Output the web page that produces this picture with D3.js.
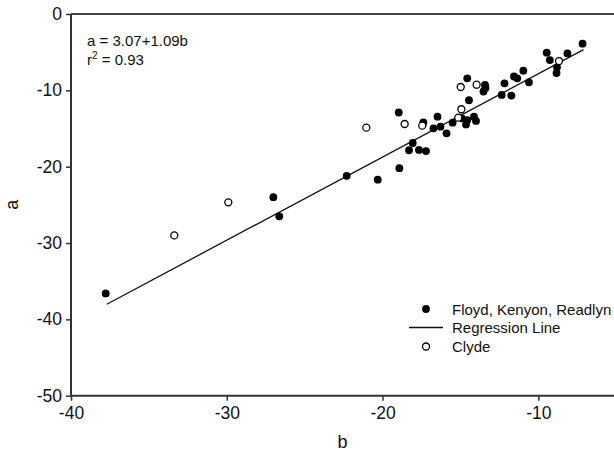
<!DOCTYPE html>
<html>
<head>
<meta charset="utf-8">
<script src="https://cdn.jsdelivr.net/npm/d3@7"></script>
<style>
  html, body { margin: 0; padding: 0; background: #fff; }
  svg { display: block; font-family: "Liberation Sans", Arial, Helvetica, sans-serif; }
</style>
</head>
<body>
<svg id="chart" width="614" height="453"></svg>
<script>
// Sites Floyd, Kenyon and Readlyn (filled markers): b values and matching a values
const fkrB = [-37.77, -27.01, -26.63, -22.30, -20.31, -18.92, -18.96, -17.38, -18.06, -18.30,
              -17.66, -17.21, -16.47, -16.73, -16.28, -15.89, -15.50, -14.90, -14.64, -14.56,
              -14.13, -14.00, -14.45, -14.56, -13.42, -13.52, -13.39, -12.17, -12.35, -11.73,
              -11.56, -11.35, -10.96, -10.60, -9.46, -9.26, -8.80, -8.83, -8.13, -7.16];
const fkrA = [-36.6, -24.0, -26.5, -21.2, -21.7, -20.2, -12.9, -14.2, -16.9, -17.85,
              -17.8, -17.95, -13.45, -14.97, -14.76, -15.63, -14.24, -13.66, -14.47, -13.89,
              -13.45, -14.0, -11.3, -8.43, -9.3, -10.15, -9.7, -9.08, -10.6, -10.68,
              -8.19, -8.43, -7.43, -8.95, -5.07, -6.03, -6.98, -7.73, -5.17, -3.89];

// Clyde site (open markers)
const clydeB = [-33.37, -29.90, -21.04, -18.58, -17.45, -14.94, -15.14, -14.98, -13.96, -8.67];
const clydeA = [-29.0, -24.67, -14.89, -14.41, -14.63, -12.48, -13.58, -9.56, -9.26, -6.16];

// Regression a = 3.07 + 1.09 b, drawn over the span of the data
const regIntercept = 3.07;
const regSlope = 1.09;
const regSpan = [-37.7, -7.1];

const xTicks = [-40, -30, -20, -10];
const yTicks = [0, -10, -20, -30, -40, -50];
const legendLabels = ["Floyd, Kenyon, Readlyn", "Regression Line", "Clyde"];

const svg = d3.select("#chart");
const W = 614;
const plotLeft = 71, plotTop = 14, plotBottom = 395.7;
const ink = "#111";
const plainNum = d => String(d); // hyphen-minus tick labels

const x = d3.scaleLinear().domain([-40, -10]).range([plotLeft, 538.3]);
const y = d3.scaleLinear().domain([-50, 0]).range([plotBottom, plotTop]);

// top frame line
svg.append("line")
  .attr("x1", plotLeft).attr("x2", W).attr("y1", plotTop).attr("y2", plotTop)
  .attr("stroke", "#444").attr("stroke-width", 2);

// x axis
const xAxis = svg.append("g").attr("transform", `translate(0,${plotBottom})`)
  .call(d3.axisBottom(x).tickValues(xTicks).tickSize(5).tickSizeOuter(0).tickFormat(plainNum));
xAxis.select(".domain").remove();
xAxis.append("line").attr("x1", plotLeft).attr("x2", W).attr("y1", 0).attr("y2", 0)
  .attr("stroke", "#333").attr("stroke-width", 2);
xAxis.selectAll(".tick line").attr("stroke", "#333").attr("stroke-width", 1.5);
xAxis.selectAll(".tick text").attr("font-size", 17.5).attr("fill", ink)
  .attr("font-family", "Liberation Sans, Arial, sans-serif").attr("dy", "1.05em").attr("y", 5);

// y axis
const yAxis = svg.append("g").attr("transform", `translate(${plotLeft},0)`)
  .call(d3.axisLeft(y).tickValues(yTicks).tickSize(5).tickSizeOuter(0).tickFormat(plainNum));
yAxis.select(".domain").remove();
yAxis.append("line").attr("x1", 0).attr("x2", 0).attr("y1", plotTop).attr("y2", plotBottom)
  .attr("stroke", "#333").attr("stroke-width", 2);
yAxis.selectAll(".tick line").attr("stroke", "#333").attr("stroke-width", 1.5);
yAxis.selectAll(".tick text").attr("font-size", 17.5).attr("fill", ink)
  .attr("font-family", "Liberation Sans, Arial, sans-serif").attr("x", -9);

// axis titles
svg.append("text").attr("x", (plotLeft + W) / 2).attr("y", 448)
  .attr("text-anchor", "middle").attr("font-size", 18).attr("fill", ink).text("b");
svg.append("text").attr("transform", `translate(18,${(plotTop + plotBottom) / 2}) rotate(-90)`)
  .attr("text-anchor", "middle").attr("font-size", 18).attr("fill", ink).text("a");

// regression line
const reg = d3.line().x(d => x(d)).y(d => y(regIntercept + regSlope * d));
svg.append("path").datum(regSpan).attr("d", reg)
  .attr("fill", "none").attr("stroke", ink).attr("stroke-width", 1.3);

// filled markers
svg.append("g").selectAll("circle").data(d3.zip(fkrB, fkrA)).join("circle")
  .attr("cx", d => x(d[0])).attr("cy", d => y(d[1])).attr("r", 3.9)
  .attr("fill", "#000");

// open markers
svg.append("g").selectAll("circle").data(d3.zip(clydeB, clydeA)).join("circle")
  .attr("cx", d => x(d[0])).attr("cy", d => y(d[1])).attr("r", 3.5)
  .attr("fill", "#fff").attr("stroke", "#000").attr("stroke-width", 1.3);

// equation annotation
const eq = svg.append("text").attr("x", 87).attr("y", 46).attr("font-size", 15).attr("fill", ink);
eq.text("a = 3.07+1.09b");
const r2 = svg.append("text").attr("x", 87).attr("y", 65).attr("font-size", 15).attr("fill", ink);
r2.append("tspan").text("r");
r2.append("tspan").attr("font-size", 10).attr("dy", -6).text("2");
r2.append("tspan").attr("dy", 6).text(" = 0.93");

// legend
const lg = svg.append("g");
const rowY = [309, 327.5, 346.5];
lg.append("circle").attr("cx", 426).attr("cy", rowY[0]).attr("r", 3.9).attr("fill", "#000");
lg.append("line").attr("x1", 409).attr("x2", 443).attr("y1", rowY[1]).attr("y2", rowY[1])
  .attr("stroke", ink).attr("stroke-width", 1.3);
lg.append("circle").attr("cx", 426).attr("cy", rowY[2]).attr("r", 3.5)
  .attr("fill", "#fff").attr("stroke", "#000").attr("stroke-width", 1.3);
lg.selectAll("text").data(legendLabels).join("text")
  .attr("x", 452).attr("y", (d, i) => rowY[i] + 5.5)
  .attr("font-size", 15).attr("fill", ink).text(d => d);
</script>
</body>
</html>
